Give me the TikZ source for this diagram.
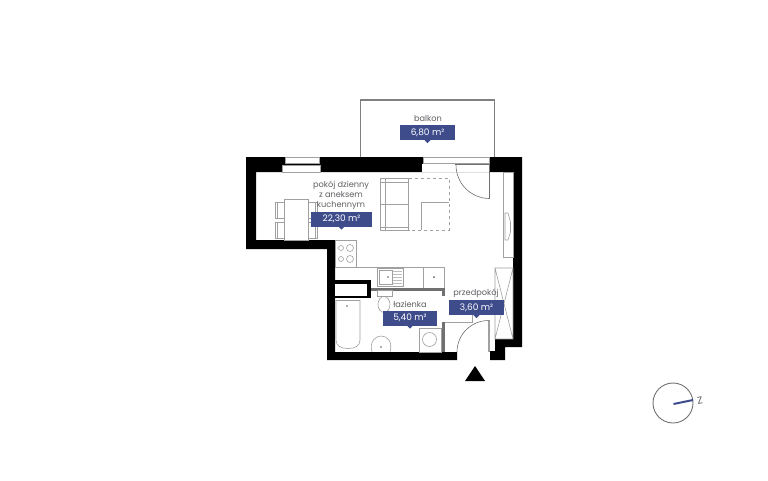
\documentclass[tikz,border=0pt]{standalone}
\usepackage{fontspec}
\setmainfont{Poppins}
\definecolor{areablue}{RGB}{62,76,140}
\definecolor{labelgray}{RGB}{95,95,100}
\definecolor{linegray}{RGB}{160,160,160}
\tikzset{
    wall/.style={fill=black},
    partition/.style={fill=linegray!70!black},
    furniture/.style={draw=linegray,line width=0.6pt},
    roomname/.style={text=labelgray,font=\fontsize{8.2}{9}\selectfont,inner sep=0pt,align=center},
    areabox/.style={fill=areablue,text=white,font=\fontsize{9}{9}\selectfont,inner sep=0pt,minimum height=15pt},
}
\begin{document}
\begin{tikzpicture}[x=1pt,y=-1pt]
    \useasboundingbox (0,0) rectangle (768,480);
    % balcony
    \draw [draw=linegray!80!black,line width=1.4pt] (360.5,157) -- (360.5,100) -- (494.5,100) -- (494.5,157);
    % outer walls
    \fill [wall] (246,157) -- (522,157) -- (522,347) -- (505,347) -- (505,360) -- (490,360) -- (490,351) -- (495,351) -- (495,339) -- (513,339)
        -- (513,172) -- (256,172) -- (256,240) -- (335,240) -- (335,352) -- (457,352) -- (457,360) -- (327,360) -- (327,249) -- (246,249) -- cycle;
    % shaft
    \fill [wall] (335,280) rectangle (371,298);
    \fill [white] (335,284) rectangle (367,296);
    % windows
    \fill [white] (285,157) rectangle (319,163);
    \fill [white] (282,165) rectangle (320,172);
    \draw [furniture] (285,157) rectangle (319,163);
    \draw [furniture] (282,165) rectangle (320,172);
    \fill [white] (423,157) rectangle (489,163);
    \fill [white] (422,164) rectangle (490,172);
    \draw [furniture] (423,157) rectangle (489,163);
    \draw [draw=linegray!70!black,line width=1.2pt] (455,164.5) -- (490,164.5);
    % balcony door
    \draw [furniture,draw=linegray!70!black] (456,165) arc (180:90:33.5) -- (489.5,165);
    % partitions
    \fill [partition] (371,287.5) rectangle (443,290.5);
    \fill [partition] (442,287.5) rectangle (445,296);
    \fill [partition] (442,322) rectangle (445,352);
    \draw [furniture] (445,322.5) -- (472.5,322.5) -- (472.5,315);
    % entrance door
    \fill [linegray] (487.5,320) rectangle (490,352);
    \draw [furniture,draw=linegray!70!black] (457,352) arc (180:270:31.5);
    % wardrobes
    \draw [furniture] (495,268) rectangle (513,339) (495,268) -- (513,339) (513,268) -- (495,339);
    \draw [furniture] (503,172) rectangle (513,257);
    \draw [furniture] (505,213) -- (508,213) -- (510.5,222) -- (510.5,232) -- (508,240) -- (505,240) -- cycle;
    % table and chairs
    \draw [furniture] (284,199) rectangle (308,240);
    \draw [furniture] (275,202) rectangle (284,218) (275,222) rectangle (284,238) (277,202) -- (277,218) (277,222) -- (277,238);
    \draw [furniture] (308,202) rectangle (317,218) (308,222) rectangle (317,238) (315,202) -- (315,218) (315,222) -- (315,238);
    % sofa, rug, armchair
    \draw [furniture] (380,178.5) rectangle (408.5,230) (380,204) -- (408.5,204) (385,178.5) -- (385,230) (380,182) -- (408.5,182) (380,227) -- (408.5,227);
    \draw [furniture,dashed] (408.5,178.5) -- (449,178.5) -- (449,230) -- (408.5,230);
    \draw [furniture] (421,230) -- (421,202) -- (449,202);
    % kitchen
    \draw [furniture] (335,240) rectangle (356,267);
    \draw [furniture] (356,267) -- (444.5,267) -- (444.5,288);
    \draw [furniture] (423.5,267) -- (423.5,288);
    \foreach \cx/\cy in {341/248,341/259} \draw [furniture] (\cx,\cy) circle (2.5);
    \foreach \cx/\cy in {350/248,350/259} \draw [furniture] (\cx,\cy) circle (3.5);
    \draw [furniture] (377,268) rectangle (403,286) (379,270) rectangle (392,284);
    \foreach \ly in {271,274,277,280,283} \draw [furniture,draw=linegray!70] (393,\ly) -- (402,\ly);
    \fill [labelgray] (388,277) circle (0.8);
    \fill [labelgray] (434,277) circle (1);
    % bathroom
    \draw [furniture] (336,300.5) -- (360,300.5) -- (360,340) .. controls (360,346) and (355,348.5) .. (348,348.5) .. controls (341,348.5) and (336,346) .. (336,340) -- cycle;
    \fill [labelgray] (347,306) circle (0.9);
    \draw [furniture] (377,290.5) rectangle (392,296.5);
    \draw [furniture] (384,304.5) ellipse (6 and 8);
    \draw [furniture] (372,352) .. controls (369,341) and (376,336) .. (381,336) .. controls (387,336) and (393,341) .. (390,352);
    \fill [labelgray] (381,347) circle (0.8);
    \draw [furniture] (419,328) rectangle (441,352);
    \draw [furniture] (429.5,339.5) circle (7);
    % area labels
    \node [roomname] (balkonname) at (428,118.5) {balkon};
    \node [areabox,minimum width=55pt] (balkonarea) at (427.5,132.5) {6,80 m²};
    \node [roomname] (pokojname) at (341,195) {pokój dzienny\\[1pt]z aneksem\\[1pt]kuchennym};
    \node [areabox,minimum width=61pt] (pokojarea) at (341.5,219) {22,30 m²};
    \node [roomname] (lazienkaname) at (410,304) {łazienka};
    \node [areabox,minimum width=54pt] (lazienkaarea) at (410,318) {5,40 m²};
    \node [roomname] (przedpokojname) at (476,293) {przedpokój};
    \node [areabox,minimum width=55pt] (przedpokojarea) at (476.5,307.5) {3,60 m²};
    \foreach \lbl in {balkonarea,pokojarea,lazienkaarea,przedpokojarea}
        \fill [areablue] ([xshift=-3pt]\lbl.south) -- ([xshift=3pt]\lbl.south) -- ([yshift=-3pt]\lbl.south) -- cycle;
    % entrance arrow
    \fill [black] (475,366) -- (485,381) -- (465,381) -- cycle;
    % compass
    \draw [draw=linegray!70!black,line width=0.9pt] (673,403) circle (20);
    \draw [draw=areablue,line width=2pt] (673.5,404) -- (693,400);
    \node [text=labelgray,font=\fontsize{10}{10}\selectfont,inner sep=0pt,rotate=10] (northmark) at (700,401) {Z};
\end{tikzpicture}
\end{document}
